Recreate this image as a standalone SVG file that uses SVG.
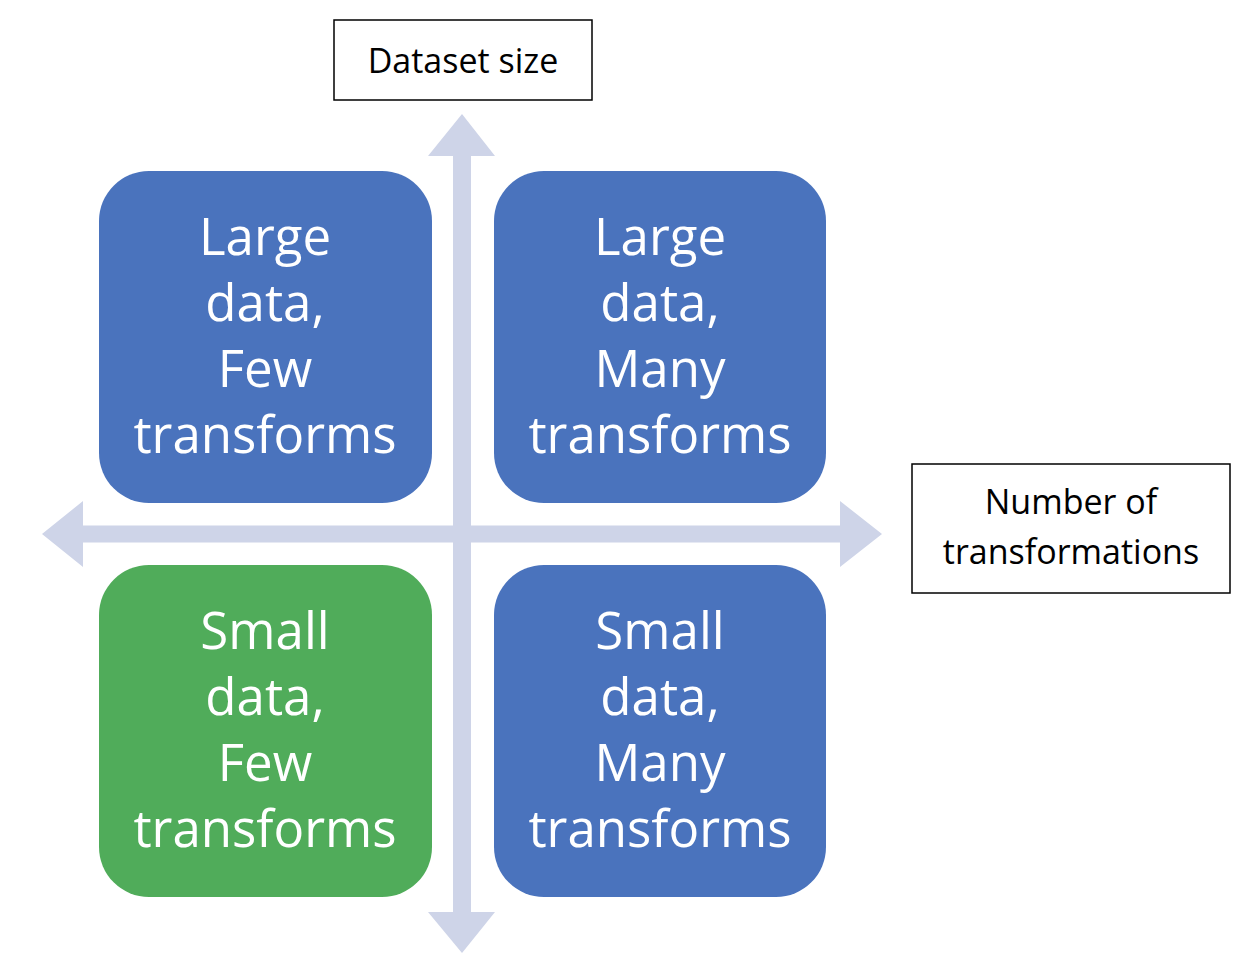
<svg xmlns="http://www.w3.org/2000/svg" width="1246" height="974" viewBox="0 0 1246 974">
<style>
.q{stroke:none}
.blue{fill:#4A73BD}
.green{fill:#50AC5A}
.qt{font-family:"Open Sans","Liberation Sans",sans-serif;font-size:51px;fill:#fff;text-anchor:middle}
.lab{fill:#fff;stroke:#000;stroke-width:1.5}
.lt{font-family:"Open Sans","Liberation Sans",sans-serif;font-size:34px;fill:#000;text-anchor:middle}
.ax{fill:#CED4E8}
</style>
<rect width="1246" height="974" fill="#fff"/>
<g id="connectors">
<polygon class="ax" points="462,114 495,156 471,156 471,912 495,912 462,953 428,912 453,912 453,156 428,156"/>
<polygon class="ax" points="42,534 83,501 83,525.5 840,525.5 840,501 882,534 840,567 840,542.5 83,542.5 83,567"/>
</g>
<g id="node-large-few">
<rect class="q blue" x="99" y="171" width="333" height="332" rx="50"/>
<text class="qt" x="265" y="255">Large</text>
<text class="qt" x="265" y="321">data,</text>
<text class="qt" x="265" y="387">Few</text>
<text class="qt" x="265" y="453">transforms</text>
</g>
<g id="node-large-many">
<rect class="q blue" x="494" y="171" width="332" height="332" rx="50"/>
<text class="qt" x="660" y="255">Large</text>
<text class="qt" x="660" y="321">data,</text>
<text class="qt" x="660" y="387">Many</text>
<text class="qt" x="660" y="453">transforms</text>
</g>
<g id="node-small-few">
<rect class="q green" x="99" y="565" width="333" height="332" rx="50"/>
<text class="qt" x="265" y="649">Small</text>
<text class="qt" x="265" y="715">data,</text>
<text class="qt" x="265" y="781">Few</text>
<text class="qt" x="265" y="847">transforms</text>
</g>
<g id="node-small-many">
<rect class="q blue" x="494" y="565" width="332" height="332" rx="50"/>
<text class="qt" x="660" y="649">Small</text>
<text class="qt" x="660" y="715">data,</text>
<text class="qt" x="660" y="781">Many</text>
<text class="qt" x="660" y="847">transforms</text>
</g>
<g id="label-dataset-size">
<rect class="lab" x="334" y="20" width="258" height="80"/>
<text class="lt" x="463" y="73">Dataset size</text>
</g>
<g id="label-number-of-transformations">
<rect class="lab" x="912" y="464" width="318" height="129"/>
<text class="lt" x="1071" y="514">Number of</text>
<text class="lt" x="1071" y="564">transformations</text>
</g>
</svg>
